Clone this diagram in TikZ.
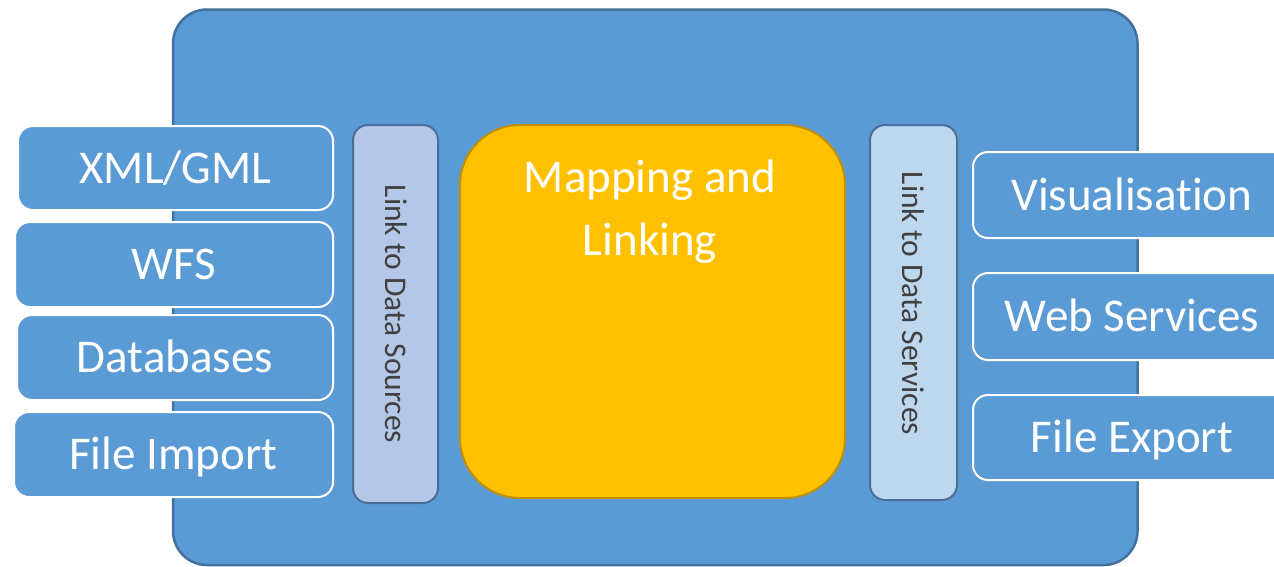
\documentclass[tikz,border=0pt]{standalone}
\usepackage{fontspec}
\setmainfont{Carlito}[Ligatures=NoCommon]
\definecolor{panelblue}{HTML}{5B9BD5}
\definecolor{paneledge}{HTML}{41719C}
\definecolor{srclinkfill}{HTML}{B4C7E7}
\definecolor{svclinkfill}{HTML}{BDD7EE}
\definecolor{linkedge}{HTML}{4A6E97}
\definecolor{coreyellow}{HTML}{FFC000}
\definecolor{coreedge}{HTML}{BF9000}
\definecolor{linktextcol}{HTML}{404040}
\tikzset{
  mainpanel/.style={draw=paneledge, line width=2.5pt, fill=panelblue,
    rounded corners=34pt, inner sep=0pt},
  iobox/.style={draw=white, line width=2pt, fill=panelblue, rounded corners=15pt,
    inner sep=0pt, text=white, font=\fontsize{47}{57}\selectfont,
    text height=30pt, text depth=0pt},
  linkbox/.style={draw=linkedge, line width=2pt, rounded corners=15pt, inner sep=0pt},
  linktext/.style={rotate=-90, inner sep=0pt, text=linktextcol,
    font=\fontsize{31.5}{38}\selectfont, text height=20pt, text depth=0pt},
  corebox/.style={draw=coreedge, line width=2pt, fill=coreyellow,
    rounded corners=60pt, inner sep=0pt},
  coretext/.style={align=center, inner sep=0pt, text=white,
    font=\fontsize{47}{63}\selectfont},
}
\begin{document}
\begin{tikzpicture}[x=1pt, y=-1pt]
  \clip (0,0) rectangle (1274,566);
  \fill[white] (0,0) rectangle (1274,566);

  % outer panel
  \node[mainpanel, minimum width=964.5pt, minimum height=555.5pt] (panel) at (655.25,287.25) {};

  % data sources
  \node[iobox, minimum width=315pt, minimum height=84pt] (xml) at (175.5,168) {XML/GML};
  \node[iobox, minimum width=318pt, minimum height=85pt] (wfs) at (174,264.5) {WFS};
  \node[iobox, minimum width=316pt, minimum height=85pt] (db)  at (175,357.5) {Databases};
  \node[iobox, minimum width=319pt, minimum height=85pt] (imp) at (173.5,454.5) {File Import};

  % link layers
  \node[linkbox, fill=srclinkfill, minimum width=85pt, minimum height=378pt] (srclink) at (395.5,314) {};
  \node[linktext] (srclinktext) at (srclink.center) {Link to Data Sources};
  \node[linkbox, fill=svclinkfill, minimum width=87pt, minimum height=375pt] (svclink) at (913.5,312.5) {};
  \node[linktext] (svclinktext) at (912.5,303.5) {Link to Data Services};

  % core
  \node[corebox, minimum width=385pt, minimum height=373pt] (core) at (652.5,311.5) {};
  \node[coretext, anchor=base] (coretitle) at (650,255) {Mapping and\\Linking};

  % data services
  \node[iobox, minimum width=318pt, minimum height=86pt] (vis) at (1132,195) {Visualisation};
  \node[iobox, minimum width=318pt, minimum height=87pt] (web) at (1132,316.5) {Web Services};
  \node[iobox, minimum width=318pt, minimum height=85pt] (exp) at (1132,437.5) {File Export};
\end{tikzpicture}
\end{document}
